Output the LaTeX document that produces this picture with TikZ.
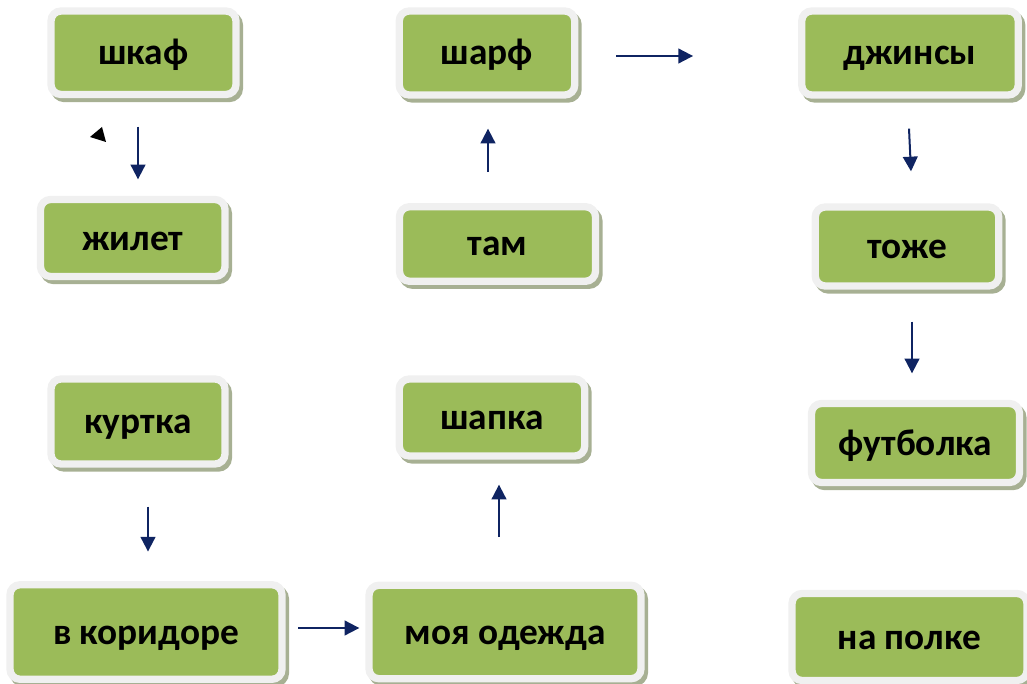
\documentclass[tikz,border=0pt]{standalone}
\usepackage{fontspec}
\setmainfont{Carlito}
\usetikzlibrary{arrows.meta,calc}
\definecolor{boxgreen}{HTML}{9BBB59}
\definecolor{framegray}{HTML}{F0F0F0}
\definecolor{shadegreen}{HTML}{A7B093}
\definecolor{arrowblue}{HTML}{0F2462}
\begin{document}
\begin{tikzpicture}
[x=0.75pt,y=-0.75pt,
box/.style={draw=framegray,fill=boxgreen,line width=5.5pt,rounded corners=7.5pt,inner sep=0pt,
  font=\fontsize{28}{33}\selectfont\bfseries,text height=20pt,text depth=2pt,
  preaction={draw=shadegreen,fill=shadegreen,line width=5.5pt,transform canvas={xshift=2.5pt,yshift=-3pt}}},
arr/.style={draw=arrowblue,line width=1.5pt,-{Triangle[length=11pt,width=11pt]}},]
\useasboundingbox (0,0) rectangle (1027,684);
% left column
\node (shkaf) at (143.5,52.75)[box,minimum width=138.75pt,minimum height=62.6pt]{шкаф};
\node (zhilet) at (132.75,238)[box,minimum width=138.4pt,minimum height=57.75pt]{жилет};
\node (kurtka) at (138,421.5)[box,minimum width=130.5pt,minimum height=63.75pt]{куртка};
\node (koridor) at (146,632)[box,minimum width=204pt,minimum height=70.9pt]{в коридоре};
% middle column
\node (odezhda) at (505,632)[box,minimum width=204pt,minimum height=70.1pt]{моя одежда};
\node (shapka) at (492,417.5)[box,minimum width=139.1pt,minimum height=57.75pt]{шапка};
\node (tam) at (497.5,244)[box,minimum width=147pt,minimum height=55.9pt]{там};
\node (sharf) at (487,53)[box,minimum width=131.6pt,minimum height=63pt]{шарф};
% right column
\node (dzhinsy) at (910,53)[box,minimum width=162.4pt,minimum height=63pt]{джинсы};
\node (tozhe) at (907,246.5)[box,minimum width=137.6pt,minimum height=59.25pt]{тоже};
\node (futbolka) at (915.5,443)[box,minimum width=156pt,minimum height=59.25pt]{футболка};
\node (polka) at (909.5,637)[box,minimum width=176.25pt,minimum height=65.25pt]{на полке};

\draw[arr] ($(shkaf.south)+(-5.5,28.5)$) -- ($(zhilet.north)+(5.25,-16.5)$);
\draw[arr] ($(kurtka.south)+(10,39)$) -- ($(koridor.north)+(2,-29.5)$);
\draw[arr] ($(koridor.east)+(12.5,-4)$) -- ($(odezhda.west)+(-6,-4)$);
\draw[arr] ($(odezhda.north)+(-6,-44.5)$) -- ($(shapka.south)+(7,25)$);
\draw[arr] ($(tam.north)+(-9.5,-31)$) -- ($(sharf.south)+(1,30)$);
\draw[arr] ($(sharf.east)+(38,3)$) -- ($(dzhinsy.west)+(-105,3)$);
\draw[arr] ($(dzhinsy.south)+(-1,30)$) -- ($(tozhe.north)+(4,-32)$);
\draw[arr] ($(tozhe.south)+(5,32)$) -- ($(futbolka.north)+(-3.5,-26.5)$);
%\draw[arr] (zhilet) -- (kurtka);
\fill (90,137) -- (102,127) -- (106,142) -- cycle;
\end{tikzpicture}
\end{document}
